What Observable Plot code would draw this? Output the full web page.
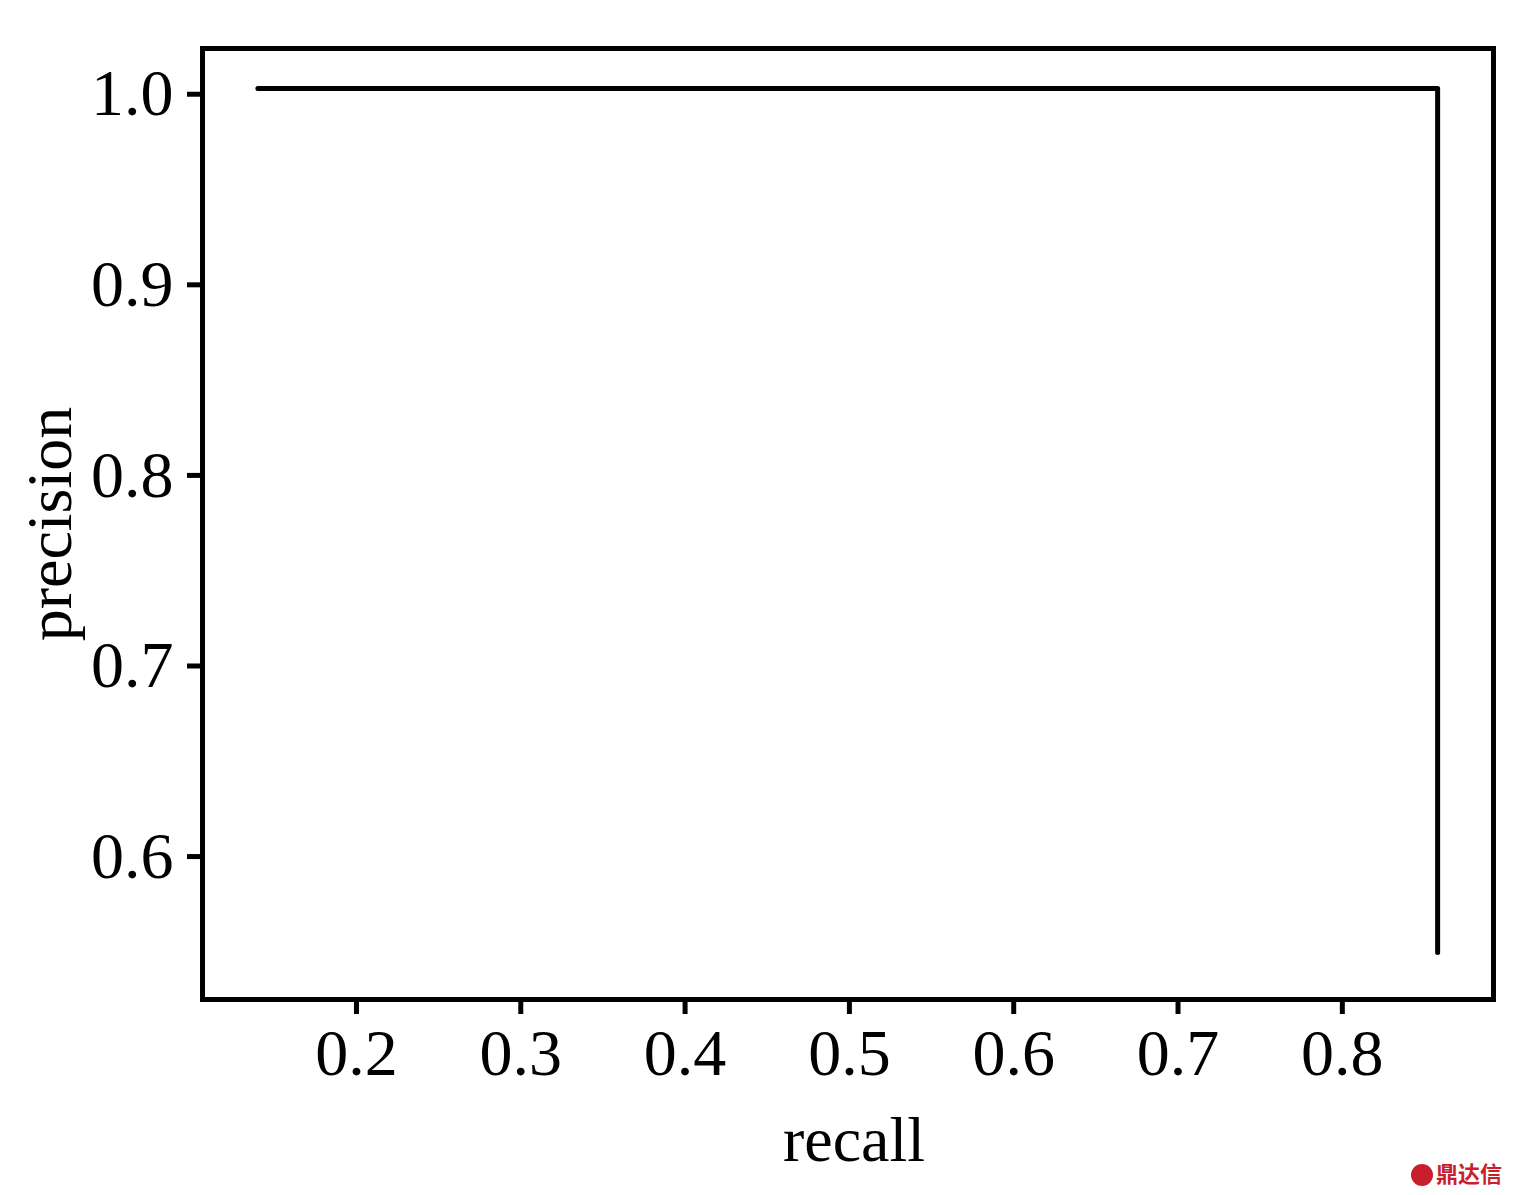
<!DOCTYPE html>
<html>
<head>
<meta charset="utf-8">
<script src="https://cdn.jsdelivr.net/npm/d3@7"></script>
<script src="https://cdn.jsdelivr.net/npm/@observablehq/plot@0.6"></script>
<style>
  body { margin: 0; background: #fff; }
  #wrap { position: relative; width: 1514px; height: 1195px; }
  #wm { position: absolute; left: 1411px; top: 1156px; font-family: "Noto Sans CJK SC", sans-serif; font-weight: 700; font-size: 22px; color: #c81e2e; white-space: nowrap; }
  #wm .logo { display: inline-block; width: 22px; height: 22px; border-radius: 50%; background: #c81e2e; vertical-align: -4px; margin-right: 3px; }
</style>
</head>
<body>
<div id="wrap"></div>
<script>
const recall = [0.140, 0.858, 0.858];
const precision = [1.003, 1.003, 0.5496];
const xTicks = [0.2, 0.3, 0.4, 0.5, 0.6, 0.7, 0.8];
const yTicks = [0.6, 0.7, 0.8, 0.9, 1.0];
const xLabel = "recall";
const yLabel = "precision";

const data = recall.map((r, i) => ({recall: r, precision: precision[i]}));
const font = "Liberation Serif, DejaVu Serif, serif";

const chart = Plot.plot({
  width: 1514,
  height: 1195,
  marginLeft: 202,
  marginRight: 21,
  marginTop: 48,
  marginBottom: 196,
  style: {fontFamily: font, background: "#fff", color: "#000"},
  x: {domain: [0.1063, 0.892]},
  y: {domain: [0.525, 1.024]},
  marks: [
    Plot.frame({stroke: "#000", strokeWidth: 5}),
    Plot.axisX(xTicks, {tickSize: 15, tickPadding: 14, strokeWidth: 5, fontSize: 66, tickFormat: d3.format(".1f"), label: null}),
    Plot.axisY(yTicks, {tickSize: 15, tickPadding: 14, strokeWidth: 5, fontSize: 66, tickFormat: d3.format(".1f"), label: null}),
    Plot.line(data, {x: "recall", y: "precision", stroke: "#000", strokeWidth: 5, strokeLinecap: "round"}),
    Plot.text([xLabel], {frameAnchor: "bottom", dx: 6, dy: 141, fontSize: 64, fill: "#000", textAnchor: "middle", lineAnchor: "middle"}),
    Plot.text([yLabel], {frameAnchor: "left", dx: -152, rotate: -90, fontSize: 64, fill: "#000", textAnchor: "middle", lineAnchor: "middle"})
  ]
});
document.getElementById("wrap").appendChild(chart);
const wm = document.createElement("div");
wm.id = "wm";
wm.innerHTML = '<span class="logo"></span>鼎达信';
document.getElementById("wrap").appendChild(wm);
</script>
</body>
</html>
